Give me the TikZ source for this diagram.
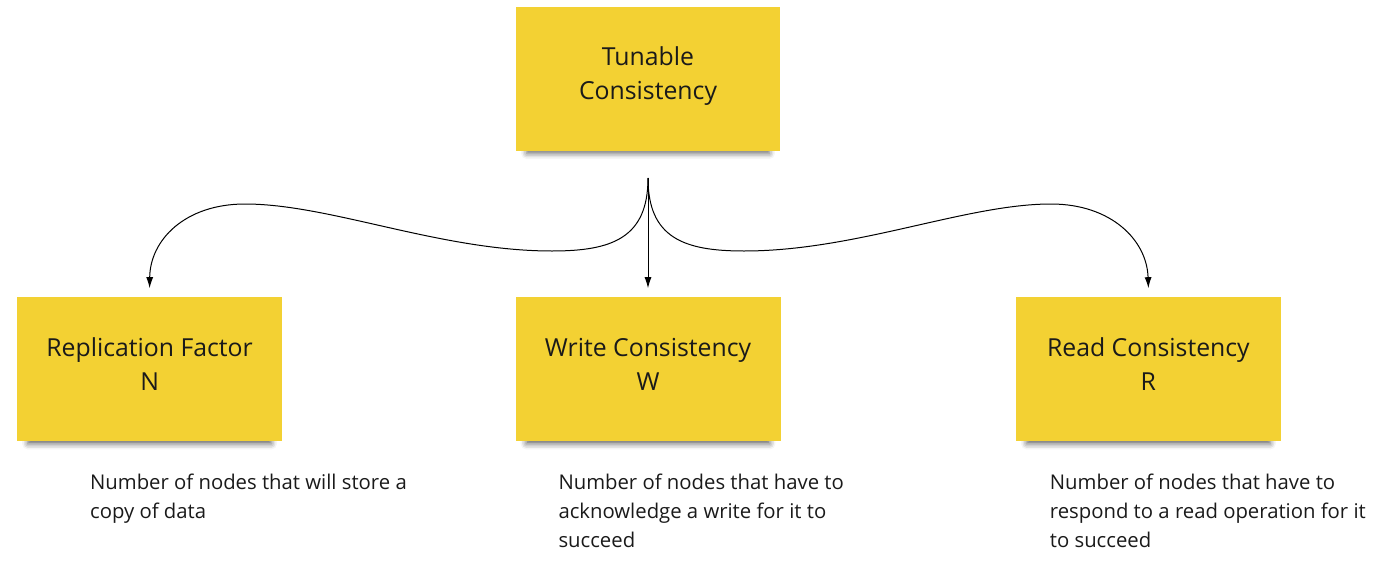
\documentclass[tikz,border=0pt]{standalone}
\usepackage{fontspec}
\setmainfont{Open Sans}
\usetikzlibrary{positioning,arrows.meta,shadows.blur}
\definecolor{stickyyellow}{HTML}{F3D133}
\definecolor{inktext}{HTML}{1A1A1A}
\begin{document}
\begin{tikzpicture}[x=1pt, y=-1pt, node distance=146pt and 233pt,
  sticky/.style = {shape=rectangle, fill=stickyyellow, align=center,
    minimum width=265pt, minimum height=144pt, inner sep=0pt,
    text=inktext, font=\fontsize{24.8}{34}\selectfont, text depth=11pt,
    blur shadow={shadow xshift=0pt, shadow yshift=-9pt,
      shadow scale=0.92, shadow opacity=60,
      shadow blur radius=6pt}},
  note/.style = {align=left, inner sep=0pt, text=inktext,
    font=\fontsize{20.3}{29}\selectfont},
  link/.style = {draw=black, line width=1pt,
    -{Latex[length=11pt,width=7pt]}}]
  \useasboundingbox (0,0) rectangle (1400,565);
  \node[sticky, minimum width=264pt] (tunable) at (648,79) {Tunable\\Consistency};
  \node[sticky, below=146pt of tunable] (write) {Write Consistency\\W};
  \node[sticky, left=233pt of write] (repl) {Replication Factor\\N};
  \node[sticky, right=235pt of write] (read) {Read Consistency\\R};
  % descriptions
  \node[note, below right=32pt and 73pt of repl.south west]
    (repl note) {Number of nodes that will store a\\copy of data};
  \node[note, below right=32pt and 43pt of write.south west]
    (write note) {Number of nodes that have to\\acknowledge a write for it to\\succeed};
  \node[note, below right=32pt and 34pt of read.south west]
    (read note) {Number of nodes that have to\\respond to a read operation for it\\to succeed};
  % arrows from the fork
  \coordinate (fork) at (648,178);
  \draw[link] (fork) -- ([yshift=9pt]write.north);
  \draw[link] (fork) .. controls (648,238) and (612,251) .. (552,251)
    .. controls (440,251) and (330,204) .. (245,204)
    .. controls (185,204) and (150,240) .. ([yshift=9pt]repl.north);
  \draw[link] (fork) .. controls (648,238) and (684,251) .. (744,251)
    .. controls (856,251) and (966,204) .. (1051,204)
    .. controls (1111,204) and (1147,240) .. ([yshift=9pt]read.north);
\end{tikzpicture}
\end{document}
